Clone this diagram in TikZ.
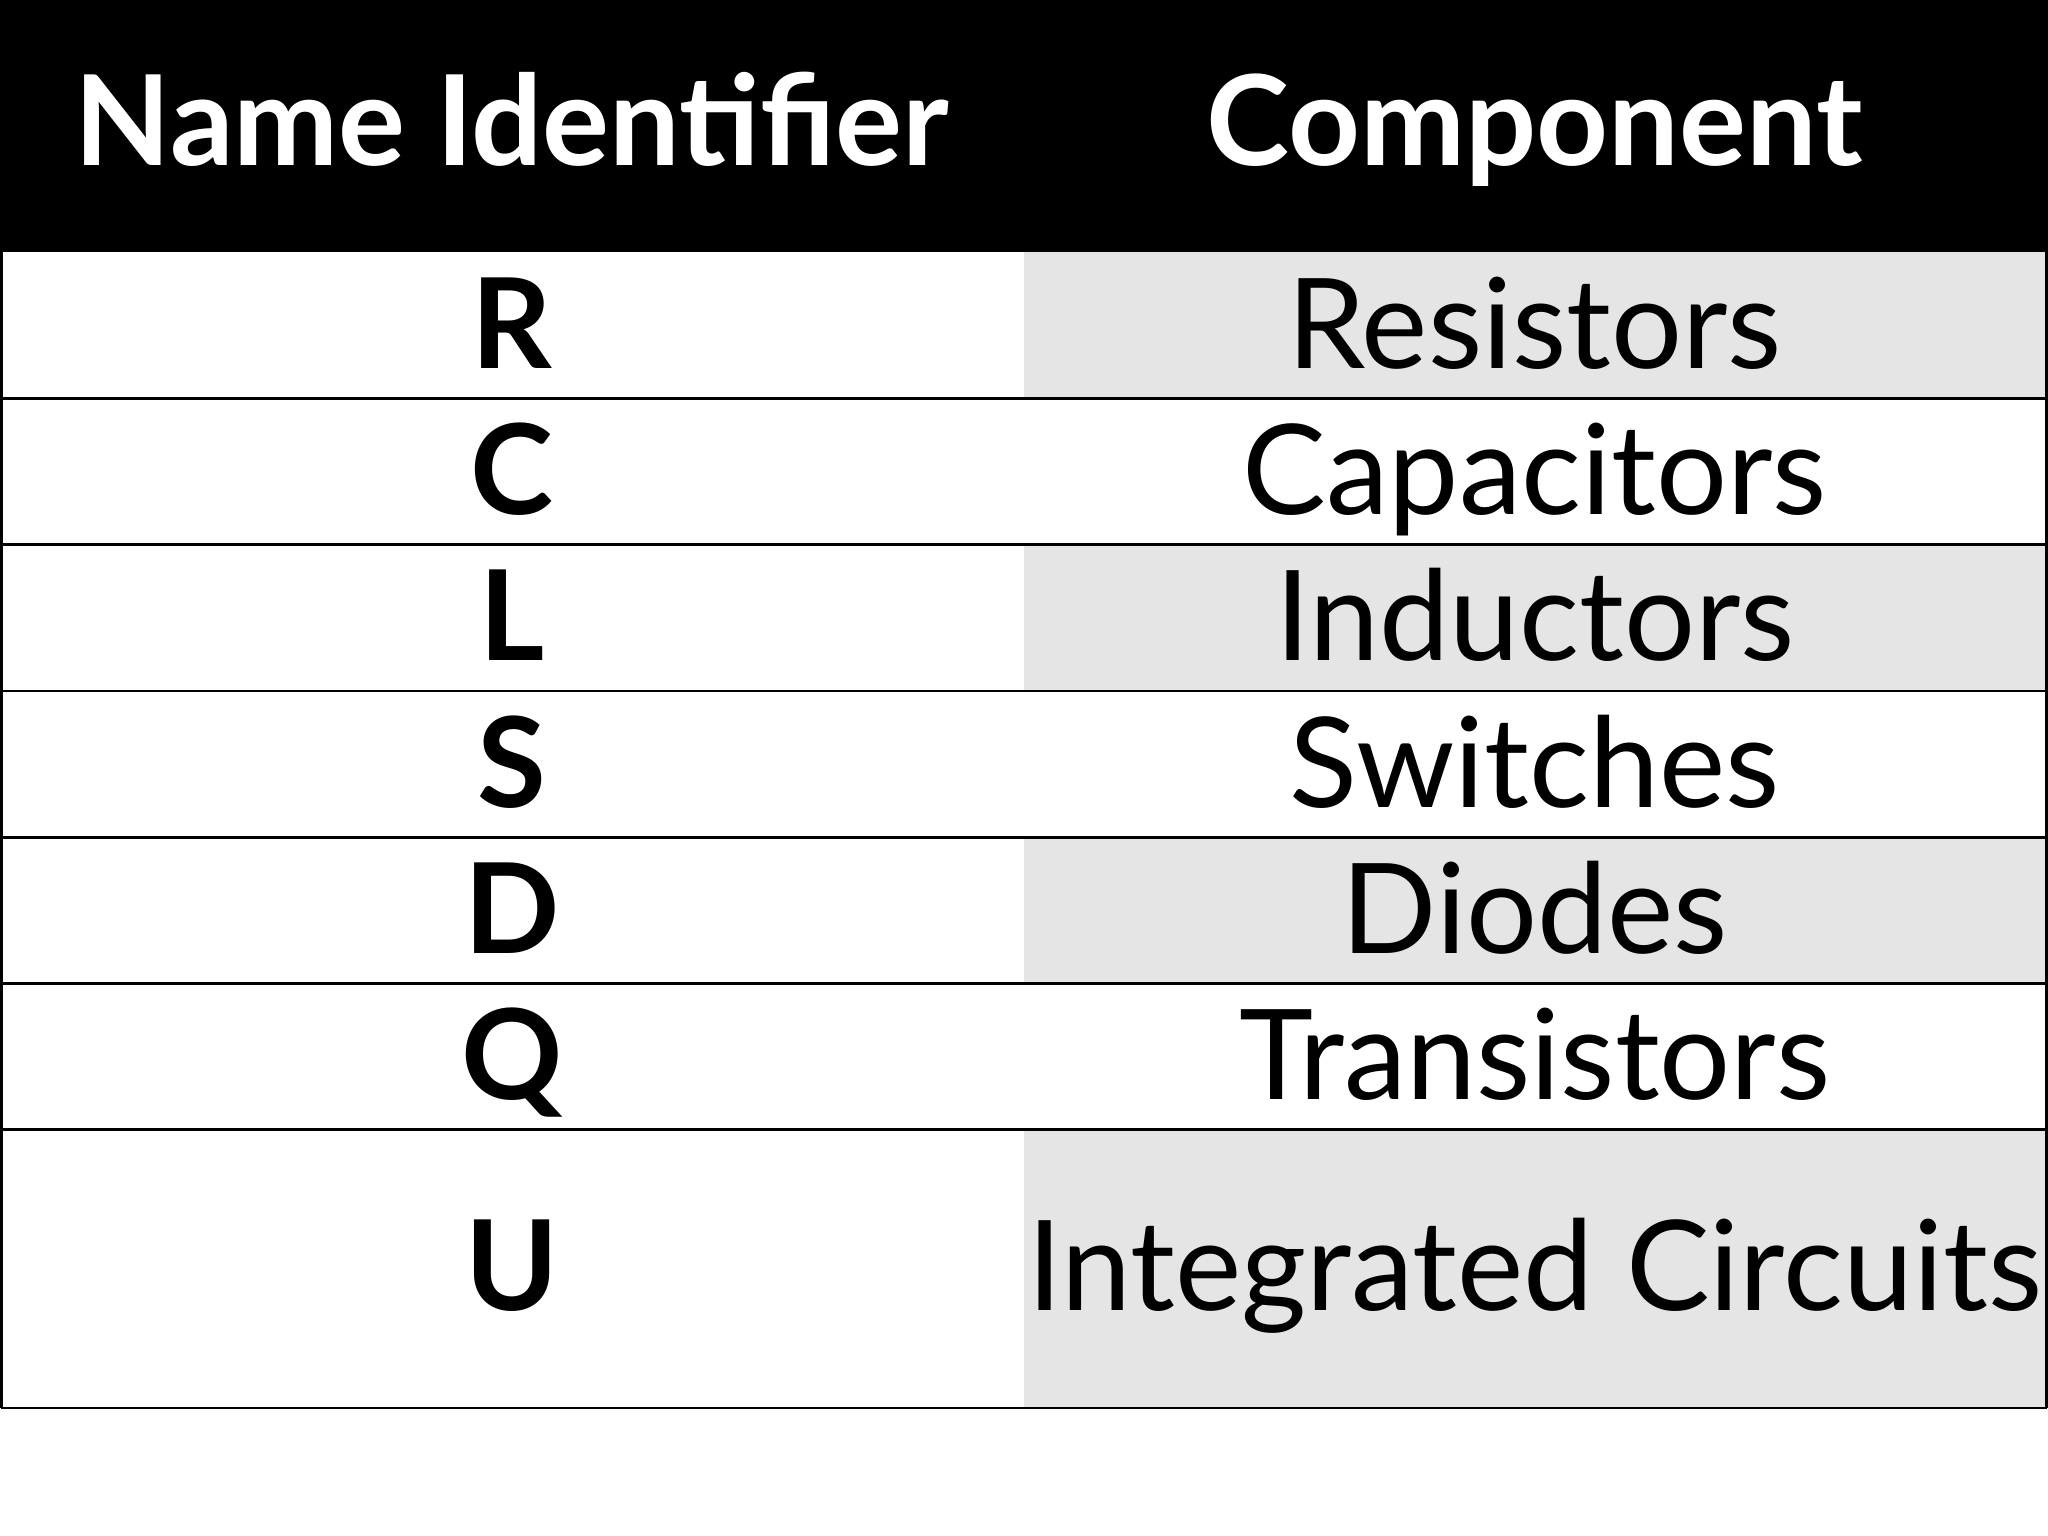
\documentclass[tikz,border=0pt]{standalone}
\usepackage{fontspec}
\setmainfont{Lato}
\begin{document}
\begin{tikzpicture}[x=0.5pt,y=-0.5pt,
  hdr/.style={font=\fontsize{48}{50}\selectfont\bfseries,text=white,anchor=base},
  idt/.style={font=\fontsize{48}{50}\selectfont\bfseries,anchor=base},
  cmp/.style={font=\fontsize{48}{50}\selectfont,anchor=base},
  gridline/.style={draw=black,line width=1pt}]
\useasboundingbox (0,0) rectangle (1568,1176);
\fill[white] (0,0) rectangle (1568,1176);
\fill[black] (0,0) rectangle (1568,193);
\foreach \a/\b in {193/305,417/529,641/753,865/1078}
  \fill[black!10] (784,\a) rectangle (1567,\b);
\foreach \y in {305,417,529,641,753,865,1078}
  \draw[gridline] (1,\y) -- (1567,\y);
\draw[gridline] (1,193) -- (1,1078);
\draw[gridline] (1567,193) -- (1567,1078);
\node[hdr] (h1) at (392,127) {Name Identifier};
\node[hdr] (h2) at (1175,127) {Component};
\foreach \i/\c/\n/\y in {r/R/Resistors/282,c/C/Capacitors/394,l/L/Inductors/506,s/S/Switches/618,d/D/Diodes/730,q/Q/Transistors/842,u/U/Integrated Circuits/1003}{
  \node[idt] (id\i) at (392,\y) {\c};
  \node[cmp] (cp\i) at (1175,\y) {\n};
}
\end{tikzpicture}
\end{document}
